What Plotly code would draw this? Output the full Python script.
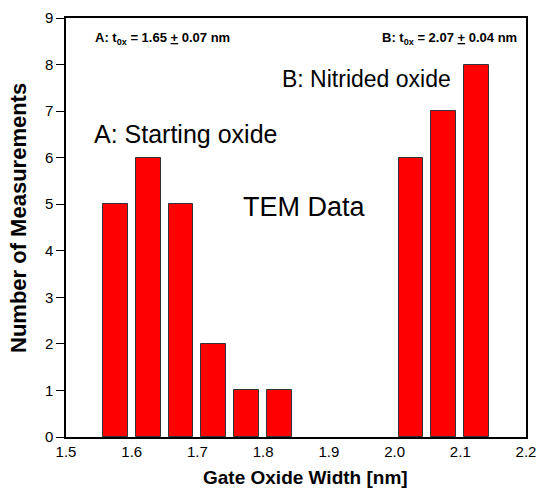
import plotly.graph_objects as go

# Data
bin_centers = [1.575, 1.625, 1.675, 1.725, 1.775, 1.825, 2.025, 2.075, 2.125]
counts = [5, 6, 5, 2, 1, 1, 6, 7, 8]
x_tick_labels = [1.5, 1.6, 1.7, 1.8, 1.9, 2.0, 2.1, 2.2]
bin_edges = [1.55, 1.65, 1.75, 1.85, 1.95, 2.05, 2.15]
y_ticks = [0, 1, 2, 3, 4, 5, 6, 7, 8, 9]

FONT = "Liberation Sans, Arial, sans-serif"

fig = go.Figure()
fig.add_trace(go.Bar(
    x=bin_centers, y=counts, width=0.038,
    marker=dict(color="#FF0000", line=dict(color="#333333", width=1)),
    showlegend=False, hoverinfo="x+y",
))

xr = [1.5, 2.2]
fig.update_layout(
    width=536, height=489, autosize=False,
    margin=dict(l=66, r=10, t=18, b=52, autoexpand=False),
    paper_bgcolor="white", plot_bgcolor="white",
    font=dict(family=FONT, color="black"),
    bargap=0,
    xaxis=dict(
        range=xr, tickvals=x_tick_labels, ticktext=[f"{v:.1f}" for v in x_tick_labels],
        ticks="", showline=True, mirror=True, linecolor="black", linewidth=1.5,
        showgrid=False, zeroline=False, tickfont=dict(size=15, family=FONT), automargin=False,
        ticklabeloverflow="allow",
    ),
    xaxis2=dict(
        range=xr, overlaying="x", side="bottom", tickvals=bin_edges, ticks="outside",
        ticklen=5, tickwidth=1.2, tickcolor="black", showticklabels=False,
        showline=False, showgrid=False, zeroline=False, automargin=False,
    ),
    xaxis3=dict(
        range=xr, overlaying="x", side="bottom", tickvals=bin_edges, ticks="inside",
        ticklen=5, tickwidth=1.2, tickcolor="black", showticklabels=False,
        showline=False, showgrid=False, zeroline=False, automargin=False,
    ),
    yaxis=dict(
        range=[0, 9], tickvals=y_ticks, ticks="outside", ticklen=8, tickwidth=1.2,
        tickcolor="black", showline=True, mirror=True, linecolor="black", linewidth=1.5,
        showgrid=False, zeroline=False, tickfont=dict(size=15, family=FONT), automargin=False,
        ticklabeloverflow="allow",
    ),
)

annos = [
    dict(x=1.541, y=8.56, xanchor="left", yanchor="middle",
         text="<b>A: t<sub>0x</sub> = 1.65 <u>+</u> 0.07 nm</b>", font=dict(size=13)),
    dict(x=2.19, y=8.56, xanchor="right", yanchor="middle",
         text="<b>B: t<sub>0x</sub> = 2.07 <u>+</u> 0.04 nm</b>", font=dict(size=13)),
    dict(x=1.539, y=6.5, xanchor="left", yanchor="middle",
         text="A: Starting oxide", font=dict(size=25)),
    dict(x=1.826, y=7.7, xanchor="left", yanchor="middle",
         text="B: Nitrided oxide", font=dict(size=23)),
    dict(x=1.767, y=4.95, xanchor="left", yanchor="middle",
         text="TEM Data", font=dict(size=27)),
]
for a in annos:
    a.update(xref="x", yref="y", showarrow=False)
    a["font"].update(family=FONT, color="black")
    fig.add_annotation(**a)

fig.add_annotation(xref="paper", yref="paper", x=(305.5 - 66) / 460, y=-(478 - 437) / 419,
                   xanchor="center", yanchor="middle", showarrow=False,
                   text="<b>Gate Oxide Width [nm]</b>", font=dict(size=19, family=FONT, color="black"))
fig.add_annotation(xref="paper", yref="paper", x=-(66 - 18) / 460, y=(437 - 218) / 419,
                   xanchor="center", yanchor="middle", showarrow=False, textangle=-90,
                   text="<b>Number of Measurements</b>", font=dict(size=22, family=FONT, color="black"))

fig.write_html("out.html", config={"displayModeBar": False},
               post_script="document.body.style.margin='0px';document.body.style.overflow='hidden';")
